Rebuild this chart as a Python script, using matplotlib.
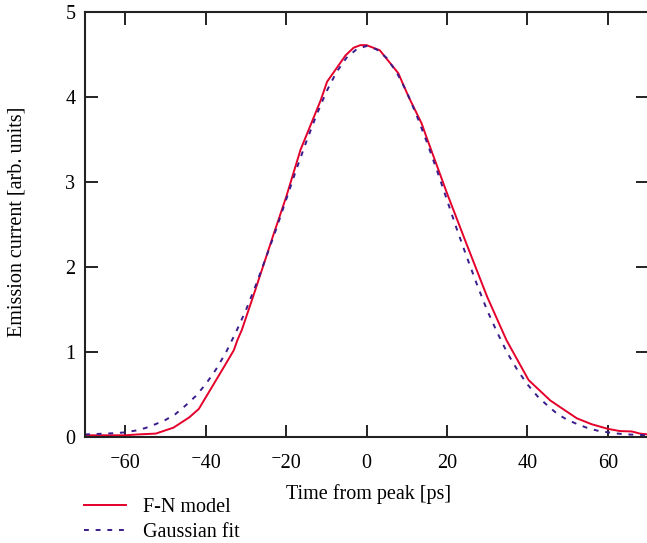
import numpy as np
import matplotlib
matplotlib.use('Agg')
import matplotlib.pyplot as plt
from matplotlib.ticker import FuncFormatter

plt.rcParams['font.family'] = ['Liberation Serif', 'DejaVu Serif']
plt.rcParams['font.size'] = 14.5

# F-N model curve
fn_time = [-70, -65, -60, -57, -52.4, -48, -44.1, -41.7, -37.9, -35, -33, -32.1, -31,
           -28, -23, -20, -16.4, -11.4, -9.8, -5.2, -3.2, -1.5, 0, 3.3, 7.9, 10.5,
           13.7, 14.9, 20, 24.8, 30, 34.8, 40.3, 45.7, 48.2, 52.3, 56, 60.1, 63, 66,
           68, 70]
fn_current = [0.02, 0.02, 0.02, 0.03, 0.04, 0.11, 0.23, 0.33, 0.63, 0.86, 1.02, 1.14, 1.26,
              1.68, 2.40, 2.82, 3.38, 3.96, 4.18, 4.49, 4.58, 4.61, 4.61, 4.55, 4.28, 4.00,
              3.69, 3.53, 2.87, 2.28, 1.65, 1.14, 0.67, 0.43, 0.35, 0.22, 0.15, 0.095, 0.07,
              0.065, 0.04, 0.03]

# Gaussian fit
gauss_time = [-70, -67.5, -65, -62.5, -60, -57.5, -55, -52.5, -50, -47.5, -45, -42.5,
              -40, -37.5, -35, -32.5, -30, -27.5, -25, -22.5, -20, -17.5, -15, -12.5,
              -10, -7.5, -5, -2.5, 0, 2.5, 5, 7.5, 10, 12.5, 15, 17.5, 20, 22.5, 25,
              27.5, 30, 32.5, 35, 37.5, 40, 42.5, 45, 47.5, 50, 52.5, 55, 57.5, 60,
              62.5, 65, 67.5, 70]
gauss_current = [0.03, 0.035, 0.04, 0.045, 0.055, 0.075, 0.105, 0.15, 0.20, 0.27, 0.37, 0.48,
                 0.62, 0.79, 0.99, 1.23, 1.49, 1.79, 2.11, 2.44, 2.79, 3.14, 3.47, 3.78,
                 4.06, 4.29, 4.46, 4.56, 4.60, 4.56, 4.46, 4.29, 4.06, 3.78, 3.47, 3.14,
                 2.79, 2.44, 2.11, 1.79, 1.49, 1.23, 0.99, 0.79, 0.62, 0.48, 0.37, 0.27,
                 0.20, 0.15, 0.105, 0.074, 0.055, 0.04, 0.03, 0.025, 0.02]

x_ticks = [-60, -40, -20, 0, 20, 40, 60]
y_ticks = [0, 1, 2, 3, 4, 5]

W, H = 647, 543
fig = plt.figure(figsize=(W / 100, H / 100), dpi=100)
ax = fig.add_axes([85 / W, (H - 437) / H, (648 - 85) / W, (437 - 12) / H])

ax.plot(fn_time, fn_current, color='#e4002b', lw=1.4, label='F-N model')
ax.plot(gauss_time, gauss_current, color='#3a1c8c', lw=1.4, ls=(0, (2.5, 3.5)),
        label='Gaussian fit')

ax.set_xlim(-70, 70)
ax.set_ylim(0, 5)
ax.set_xticks(x_ticks)
ax.set_yticks(y_ticks)


def sup_minus(v, pos):
    s = '%g' % v
    return s.replace('-', '\u207b')


ax.xaxis.set_major_formatter(FuncFormatter(sup_minus))
ax.tick_params(direction='in', length=9, width=1.4, top=True, right=True,
               labeltop=False, labelright=False, colors='#222222', labelcolor='black')
ax.tick_params(axis='x', pad=12)
ax.tick_params(axis='y', pad=7)
ax.spines['right'].set_visible(False)
for side in ['left', 'top', 'bottom']:
    ax.spines[side].set_linewidth(1.5)
    ax.spines[side].set_color('#222222')

fig.text(369 / W, 1 - 494 / H, 'Time from peak [ps]', ha='center', va='center')
fig.text(17 / W, 1 - 222 / H, 'Emission current [arb. units]', ha='center', va='center',
         rotation=90)

fig.legend(loc='upper left', bbox_to_anchor=(84 / W, 1 - 498 / H), frameon=False,
           handlelength=2.1, handletextpad=0.85, labelspacing=0.3, borderpad=0,
           borderaxespad=0)

fig.savefig('out.png', dpi=100)
